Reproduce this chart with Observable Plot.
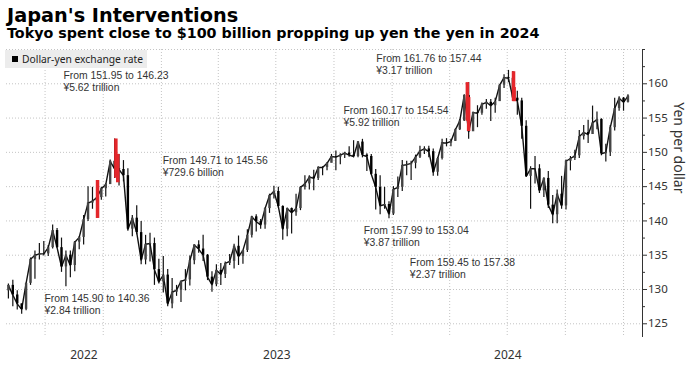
<!DOCTYPE html>
<html>
<head>
<meta charset="utf-8">
<script src="https://cdn.jsdelivr.net/npm/d3@7"></script>
<script src="https://cdn.jsdelivr.net/npm/@observablehq/plot@0.6"></script>
<style>
  html, body { margin: 0; padding: 0; background: #fff; }
  #page { position: relative; width: 692px; height: 367px; overflow: hidden; font-family: "Liberation Sans", Arial, sans-serif; }
  #title { position: absolute; left: 7px; top: 6.3px; font: bold 19.3px/1 "DejaVu Sans", sans-serif; color: #000; white-space: nowrap; }
  #subtitle { position: absolute; left: 7px; top: 26.2px; font: bold 14.3px/1 "DejaVu Sans", sans-serif; color: #000; white-space: nowrap; }
  #chart { position: absolute; left: 0; top: 44px; }
  #legend { position: absolute; left: 5px; top: 50px; width: 142px; height: 18px; background: #ececec; font-size: 10.3px; color: #222; font-family: "Noto Sans", sans-serif; }
  #legend .sw { position: absolute; left: 7px; top: 6px; width: 6px; height: 6px; background: #000; }
  #legend .lbl { position: absolute; left: 17px; top: 1px; line-height: 16px; white-space: nowrap; }
</style>
</head>
<body>
<div id="page">
  <div id="title"></div>
  <div id="subtitle"></div>
  <div id="chart"></div>
  <div id="legend"><span class="sw"></span><span class="lbl"></span></div>
</div>
<script>
// ---------------- data ----------------
const titleText = "Japan's Interventions";
const subtitleText = "Tokyo spent close to $100 billion propping up yen the yen in 2024";
const legendLabel = "Dollar-yen exchange rate";
const axisTitle = "Yen per dollar";

// Weekly dollar-yen bars, weeks ending Friday 2022-05-06 ... 2025-01-10
const firstWeekEnd = "2022-05-06";
const lastWeekEnd = "2025-01-10";
const firstOpen = 129.8;
const weekHigh = [
  // 2022
  130.8, 131.35, 129.8, 127.9, 130.9, 134.6, 135.6, 136.7, 137.0, 136.4, 139.4, 138.9, 137.5, 135.6, 135.6, 137.0, 137.7, 140.8, 145.0, 144.9, 145.9, 144.9, 145.4, 148.9, 151.95, 149.7, 148.8, 147.6, 140.8, 142.2, 139.9, 137.9, 138.2, 137.5, 134.4,
  // 2023
  134.8, 132.9, 131.6, 130.6, 131.2, 132.9, 134.9, 136.5, 137.1, 137.9, 135.1, 132.6, 133.6, 133.8, 134.0, 135.1, 136.6, 137.8, 135.7, 138.7, 140.7, 140.9, 140.2, 141.9, 143.9, 145.07, 144.9, 142.2, 141.9, 141.9, 143.9, 145.0, 146.6, 146.6, 147.4, 147.9, 147.9, 148.5, 149.7, 150.2, 149.8, 150.0, 150.8, 151.7, 151.6, 151.9, 149.8, 149.7, 147.5, 146.6, 144.9, 142.8,
  // 2024
  145.0, 146.4, 148.8, 148.7, 148.7, 149.6, 150.9, 150.8, 150.9, 150.5, 149.2, 151.9, 152.0, 151.9, 153.4, 154.8, 158.4, 160.2, 155.9, 156.8, 157.2, 157.7, 157.7, 157.9, 159.8, 161.3, 161.95, 161.8, 158.9, 157.9, 154.6, 147.9, 149.4, 148.2, 146.3, 147.2, 143.7, 144.5, 146.5, 148.9, 149.4, 150.3, 153.2, 153.9, 154.7, 156.75, 155.9, 154.9, 151.2, 153.9, 157.9, 158.1,
  // 2025
  158.0, 158.4
];
const weekLow = [
  // 2022
  128.6, 127.5, 127.0, 126.4, 126.9, 130.6, 131.5, 134.3, 134.9, 134.8, 135.9, 136.0, 132.5, 130.4, 131.7, 132.6, 135.8, 136.5, 139.9, 141.7, 140.35, 143.0, 143.5, 145.3, 146.2, 145.1, 145.7, 138.5, 137.7, 138.0, 133.6, 133.6, 134.0, 130.6, 130.8,
  // 2023
  129.5, 127.5, 127.2, 129.0, 128.1, 129.8, 130.5, 133.6, 135.3, 134.1, 131.3, 129.6, 130.4, 130.6, 131.6, 133.5, 133.0, 133.5, 133.7, 135.4, 137.5, 138.4, 138.8, 138.8, 141.1, 143.2, 141.9, 137.2, 137.7, 138.1, 140.7, 141.5, 144.5, 144.5, 144.4, 145.9, 146.6, 147.3, 148.5, 147.3, 148.2, 149.1, 149.3, 149.2, 149.2, 149.2, 147.2, 146.7, 141.6, 140.9, 141.7, 140.3,
  // 2024
  140.8, 143.4, 144.3, 146.6, 145.9, 147.6, 149.1, 149.7, 149.2, 146.5, 146.5, 148.9, 150.8, 150.8, 151.6, 153.2, 154.5, 151.9, 153.1, 153.6, 155.4, 156.3, 154.5, 155.7, 157.4, 159.3, 160.2, 157.4, 155.4, 151.9, 146.4, 141.7, 145.4, 144.0, 143.4, 141.8, 139.6, 139.6, 141.7, 141.6, 147.3, 148.8, 149.1, 151.8, 151.3, 152.6, 153.3, 149.5, 148.6, 149.4, 153.1, 156.0,
  // 2025
  156.0, 157.2
];
const weekClose = [
  // 2022
  130.6, 129.2, 127.9, 127.1, 130.9, 134.4, 135.0, 135.2, 135.2, 136.1, 138.6, 136.1, 133.3, 135.0, 133.5, 136.9, 137.6, 140.2, 142.6, 142.9, 143.4, 144.7, 145.3, 148.7, 147.6, 147.5, 146.6, 138.8, 140.4, 138.3, 134.3, 136.6, 136.7, 132.9, 131.1,
  // 2023
  132.1, 127.9, 129.6, 129.9, 131.2, 131.4, 134.2, 136.5, 135.9, 135.0, 131.8, 130.7, 132.8, 132.2, 133.8, 134.1, 136.3, 134.8, 135.7, 137.9, 140.6, 139.9, 139.4, 141.8, 143.7, 144.3, 142.1, 138.8, 141.8, 141.2, 141.8, 144.9, 145.4, 146.4, 146.2, 147.8, 147.8, 148.4, 149.4, 149.3, 149.6, 149.9, 149.6, 149.4, 151.5, 149.6, 149.4, 146.8, 144.9, 142.2, 142.4, 141.0,
  // 2024
  144.6, 144.9, 148.1, 148.2, 148.4, 149.3, 150.2, 150.5, 150.1, 147.1, 149.1, 151.4, 151.35, 151.6, 153.3, 154.6, 158.3, 153.0, 155.8, 155.7, 157.0, 157.3, 156.8, 157.4, 159.8, 160.9, 160.8, 157.9, 157.5, 153.8, 146.5, 147.6, 147.6, 144.4, 146.2, 142.3, 140.9, 143.9, 142.2, 148.7, 149.1, 149.5, 152.3, 152.9, 152.6, 154.3, 154.8, 149.8, 150.0, 153.6, 156.4, 157.9,
  // 2025
  157.3, 158.2
];

// Interventions
const interventionDates = ["2022-09-22", "2022-10-21", "2022-10-24", "2024-04-29", "2024-05-01", "2024-07-11", "2024-07-12"];
const interventionFrom = [145.90, 151.95, 149.71, 160.17, 157.99, 161.76, 159.45];
const interventionTo = [140.36, 146.23, 145.56, 154.54, 153.04, 157.44, 157.38];
const interventionAmount = ["¥2.84 trillion", "¥5.62 trillion", "¥729.6 billion", "¥5.92 trillion", "¥3.87 trillion", "¥3.17 trillion", "¥2.37 trillion"];

// Axis ticks
const yearLabels = ["2022", "2023", "2024"];
const yTickValues = [125, 130, 135, 140, 145, 150, 155, 160];
const yMinorValues = [127.5, 132.5, 137.5, 142.5, 147.5, 152.5, 157.5, 162.5, 165];
const yGridValues = [125, 130, 135, 140, 145, 150, 155, 160, 165];

// ---------------- layout (annotation anchors in data coordinates) ----------------
const noteAnchors = [
  ["2022-06-30", 129.37],
  ["2022-07-30", 161.94],
  ["2023-01-03", 149.54],
  ["2023-10-16", 156.83],
  ["2023-11-17", 139.33],
  ["2023-12-07", 164.46],
  ["2024-01-29", 134.62]
];
const xDomain = [new Date("2022-05-01"), new Date("2025-01-31")];
const yDomain = [123, 165];

// ---------------- build ----------------
document.getElementById("title").textContent = titleText;
document.getElementById("subtitle").textContent = subtitleText;
document.querySelector("#legend .lbl").textContent = legendLabel;

const fridays = d3.utcFriday.range(new Date(firstWeekEnd), d3.utcDay.offset(new Date(lastWeekEnd), 1));
const bars = fridays.map((fri, i) => ({
  date: d3.utcDay.offset(fri, -2),
  open: i ? weekClose[i - 1] : firstOpen,
  high: weekHigh[i],
  low: weekLow[i],
  close: weekClose[i]
}));
const interventions = interventionDates.map((d, i) => ({
  date: new Date(d), from: interventionFrom[i], to: interventionTo[i]
}));
const notes = interventionDates.map((d, i) => ({
  x: new Date(noteAnchors[i][0]), y: noteAnchors[i][1],
  text: `From ${interventionFrom[i].toFixed(2)} to ${interventionTo[i].toFixed(2)}\n${interventionAmount[i]}`
}));
const yearPos = yearLabels.map(y => {
  const a = Math.max(+new Date(`${y}-01-01`), +xDomain[0]);
  const b = Math.min(+new Date(`${+y + 1}-01-01`), +xDomain[1]);
  return {x: new Date((a + b) / 2), label: y};
});
const quarters = d3.utcMonth.every(3).range(xDomain[0], xDomain[1]);

const gridStyle = {stroke: "#c4c4c4", strokeOpacity: 1, strokeDasharray: "1,2"};

const chart = Plot.plot({
  width: 692,
  height: 323,
  marginTop: 5,
  marginBottom: 30,
  marginLeft: 6,
  marginRight: 50,
  style: {fontFamily: "'Noto Sans', sans-serif", fontSize: "11px", color: "#333", background: "#fff"},
  x: {type: "utc", domain: xDomain, axis: null},
  y: {domain: yDomain, axis: null},
  marks: [
    Plot.gridX(quarters, gridStyle),
    Plot.gridY(yGridValues, gridStyle),
    Plot.ruleX(bars, {x: "date", y1: "low", y2: "high", stroke: "#111", strokeWidth: 1.2}),
    Plot.line(bars, {x: "date", y: "close", stroke: "#111", strokeWidth: 1.4}),
    Plot.ruleX(bars.filter(d => d.close >= d.open), {x: "date", y1: "open", y2: "close", stroke: "#444", strokeWidth: 2.4}),
    Plot.ruleX(bars.filter(d => d.close < d.open), {x: "date", y1: "open", y2: "close", stroke: "#000", strokeWidth: 2.4}),
    Plot.ruleX(interventions, {x: "date", y1: "from", y2: "to", stroke: "#e4262b", strokeWidth: 3.5}),
    Plot.axisY(yTickValues, {anchor: "right", tickSize: 4, tickPadding: 1.5, fontSize: 11.5, label: null}),
    Plot.axisY(yMinorValues, {anchor: "right", tickSize: 2, tickFormat: () => "", label: null}),
    Plot.ruleX([xDomain[1]], {stroke: "#333"}),
    Plot.text([axisTitle], {frameAnchor: "right", dx: 36, rotate: 90, fontSize: 14, fill: "#333"}),
    Plot.text(yearPos, {x: "x", text: "label", frameAnchor: "bottom", dy: 21, fontSize: 12, fill: "#333"}),
    Plot.text(notes, {x: "x", y: "y", text: "text", textAnchor: "start", lineAnchor: "top", fontSize: 10.4, lineHeight: 1.154, fill: "#333", fontFamily: "'Liberation Sans', Arial, sans-serif"})
  ]
});
document.getElementById("chart").appendChild(chart);
</script>
</body>
</html>
